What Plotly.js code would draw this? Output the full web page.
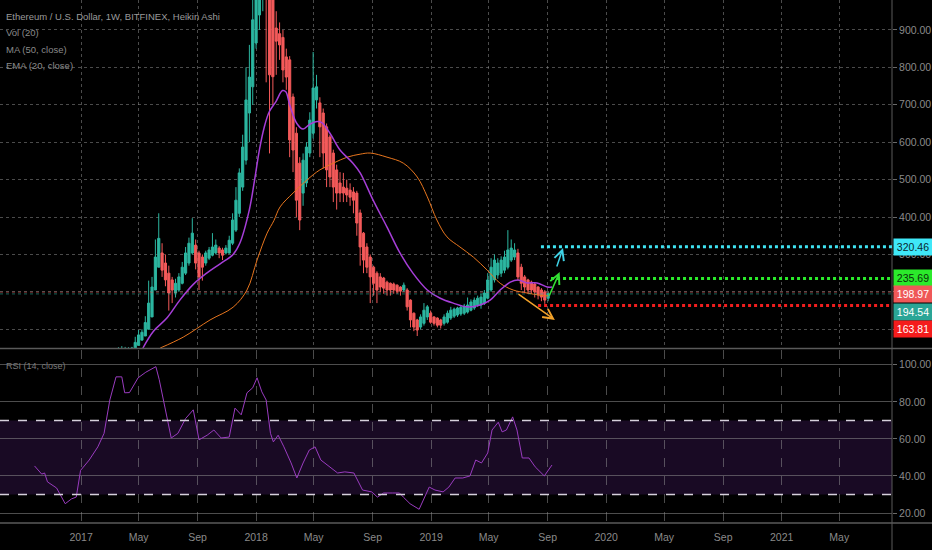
<!DOCTYPE html>
<html>
<head>
<meta charset="utf-8">
<script src="https://cdn.plot.ly/plotly-3.0.1.min.js"></script>
<style>
  html, body { margin: 0; padding: 0; background: #000; }
  #chart { width: 932px; height: 550px; }
</style>
</head>
<body>
<div id="chart"></div>
<script>
// weekly Heikin Ashi candles, first week starts 2017-02-27
const firstWeek = [2017, 1, 27];
const haOpen = [13, 15, 17, 22, 31, 40, 43, 46, 48, 57, 71, 82, 100, 133, 205, 266,
  304, 277, 250, 232, 197, 205, 223, 250, 277, 304, 325, 304, 293, 277, 290, 298, 304, 317, 312, 304,
  304, 330, 365, 410, 480, 552, 678, 748, 865, 940, 1040, 1130, 1065, 990, 905, 890, 880, 828, 820, 721,
  624, 544, 464, 491, 571, 624, 713, 705, 678, 641, 614, 571, 526, 491, 480, 477, 472, 467, 464, 411,
  357, 320, 293, 266, 250, 240, 237, 226, 223, 221, 218, 213, 205, 205, 178, 143, 125, 106, 116, 133,
  143, 133, 130, 125, 116, 119, 130, 135, 138, 141, 143, 146, 151, 157, 165, 165, 170, 183, 205, 232,
  245, 250, 258, 266, 285, 293, 304, 266, 240, 232, 226, 221, 213, 205, 200, 183];
const haHigh = [19, 21, 32, 52, 55, 53, 52, 53, 80, 98, 100, 135, 230, 240, 340, 410,
  330, 300, 270, 240, 235, 250, 280, 320, 345, 397, 340, 310, 300, 310, 320, 357, 340, 322, 318, 325,
  350, 410, 480, 530, 620, 800, 860, 1000, 1250, 1420, 1300, 1200, 1100, 1000, 950, 920, 900, 850, 830, 730,
  640, 560, 570, 600, 680, 841, 780, 720, 690, 650, 620, 580, 540, 520, 518, 500, 490, 480, 470, 420,
  360, 330, 300, 270, 255, 250, 240, 230, 225, 225, 220, 215, 225, 210, 180, 145, 128, 140, 170, 165,
  150, 135, 132, 128, 140, 150, 160, 158, 160, 165, 168, 185, 180, 185, 190, 195, 205, 250, 290, 300,
  290, 295, 310, 365, 340, 330, 315, 275, 245, 235, 230, 225, 215, 210, 205, 200];
const haLow = [12, 14, 17, 22, 31, 40, 43, 45, 48, 57, 71, 82, 100, 133, 205, 266,
  240, 215, 150, 170, 185, 200, 220, 245, 270, 300, 260, 205, 230, 270, 285, 295, 300, 290, 285, 300,
  302, 325, 360, 400, 470, 540, 600, 700, 850, 900, 950, 760, 570, 700, 780, 820, 760, 740, 560, 520,
  400, 365, 430, 480, 560, 610, 690, 560, 530, 480, 480, 440, 420, 440, 440, 440, 430, 410, 350, 270,
  250, 250, 170, 190, 170, 200, 195, 190, 190, 195, 195, 190, 200, 150, 105, 95, 82, 100, 110, 125,
  115, 110, 105, 102, 110, 115, 125, 130, 133, 136, 138, 142, 148, 152, 160, 155, 165, 180, 200, 225,
  235, 240, 250, 260, 280, 285, 230, 205, 200, 195, 195, 185, 180, 175, 168, 175];
const haClose = [16, 19, 27, 40, 48, 46, 48, 50, 65, 85, 92, 118, 170, 213, 293, 343,
  258, 232, 197, 205, 223, 240, 266, 304, 330, 357, 277, 240, 266, 304, 312, 320, 325, 304, 298, 317,
  338, 392, 445, 518, 587, 713, 774, 927, 1050, 1150, 1120, 1000, 780, 775, 870, 860, 793, 774, 606, 579,
  445, 392, 552, 587, 659, 745, 748, 641, 571, 526, 507, 480, 464, 464, 464, 459, 453, 445, 384, 320,
  285, 266, 240, 223, 205, 213, 210, 205, 205, 205, 202, 202, 218, 160, 125, 106, 98, 133, 151, 160,
  119, 116, 111, 111, 133, 143, 151, 154, 157, 159, 162, 165, 173, 178, 183, 186, 197, 232, 266, 285,
  277, 285, 293, 312, 317, 312, 240, 223, 213, 205, 205, 200, 192, 186, 178, 195];

// MA (50, close) - purple
const maDates = ["2017-05-10", "2017-06-01", "2017-06-29", "2017-07-26", "2017-08-23", "2017-09-20",
  "2017-10-18", "2017-11-14", "2017-11-28", "2017-12-18", "2017-12-29", "2018-01-08", "2018-01-18",
  "2018-01-28", "2018-02-12", "2018-02-25", "2018-03-04", "2018-03-12", "2018-03-27", "2018-04-09",
  "2018-04-23", "2018-05-08", "2018-05-18", "2018-06-04", "2018-06-25", "2018-07-22", "2018-08-06",
  "2018-09-02", "2018-10-01", "2018-10-28", "2018-11-24", "2018-12-24", "2019-01-20", "2019-02-16",
  "2019-03-17", "2019-04-13", "2019-05-04", "2019-05-25", "2019-06-15", "2019-07-01", "2019-07-20",
  "2019-08-10", "2019-08-31", "2019-09-10"];
const maValues = [50, 95, 130, 178, 220, 250, 275, 300, 330, 420, 500, 580, 640, 680, 710, 738, 735,
  700, 650, 635, 648, 655, 652, 624, 579, 544, 518, 445, 373, 304, 250, 205, 183, 170, 160, 165, 178,
  205, 226, 232, 224, 224, 213, 213];

// EMA (20, close) - orange
const emaDates = ["2017-06-15", "2017-08-02", "2017-09-27", "2017-11-14", "2017-12-13", "2018-01-03",
  "2018-01-24", "2018-02-07", "2018-02-20", "2018-03-19", "2018-04-17", "2018-05-14", "2018-06-11",
  "2018-07-10", "2018-08-06", "2018-08-27", "2018-10-01", "2018-11-04", "2018-12-03", "2018-12-24",
  "2019-01-13", "2019-02-03", "2019-03-02", "2019-03-30", "2019-04-28", "2019-05-25", "2019-06-21",
  "2019-07-20", "2019-08-16", "2019-09-02"];
const emaValues = [50, 79, 125, 159, 205, 285, 357, 390, 427, 464, 499, 526, 544, 560, 568, 571, 560,
  544, 507, 454, 392, 347, 320, 293, 258, 223, 205, 197, 191, 189];

// RSI (14, close)
const rsiDates = ["2016-09-26", "2016-10-11", "2016-10-17", "2016-10-23", "2016-11-11", "2016-11-29",
  "2016-12-12", "2016-12-22", "2016-12-31", "2017-01-18", "2017-02-05", "2017-02-18", "2017-03-02",
  "2017-03-15", "2017-03-27", "2017-04-02", "2017-04-12", "2017-04-30", "2017-05-16", "2017-06-06",
  "2017-06-13", "2017-06-25", "2017-07-08", "2017-07-22", "2017-08-07", "2017-08-23", "2017-09-04",
  "2017-09-21", "2017-10-05", "2017-10-20", "2017-11-06", "2017-11-18", "2017-12-01", "2017-12-13",
  "2017-12-25", "2018-01-03", "2018-01-13", "2018-01-22", "2018-01-31", "2018-02-06", "2018-02-16",
  "2018-02-28", "2018-03-15", "2018-03-27", "2018-04-09", "2018-04-22", "2018-05-04", "2018-05-16",
  "2018-06-04", "2018-06-20", "2018-07-05", "2018-07-24", "2018-08-11", "2018-08-30", "2018-09-11",
  "2018-09-24", "2018-10-12", "2018-10-27", "2018-11-04", "2018-11-18", "2018-12-07", "2018-12-19",
  "2018-12-28", "2019-01-09", "2019-01-26", "2019-02-07", "2019-02-20", "2019-03-08", "2019-03-23",
  "2019-04-04", "2019-04-16", "2019-04-29", "2019-05-08", "2019-05-21", "2019-05-29", "2019-06-07",
  "2019-06-20", "2019-06-29", "2019-07-10", "2019-07-24", "2019-08-06", "2019-08-25", "2019-09-10"];
const rsiValues = [45.4, 41, 41.6, 36.8, 33.5, 25, 27.6, 28.6, 43, 48.6, 55.7, 63, 81, 93.5, 93.5, 84.9,
  85, 93, 96, 99, 92, 77, 60.5, 63, 71, 75.7, 59.5, 62, 64.8, 60.5, 61, 76.6, 73, 84.9, 87.6, 93, 85.4,
  81, 63, 58.4, 62, 55.7, 47, 38.9, 47, 54, 55.7, 48.6, 44.9, 41.6, 42.2, 41.6, 32.4, 31.4, 28.6, 30.8,
  30.8, 30.8, 28.6, 25, 22, 28.6, 34, 32.4, 31.4, 34, 38.9, 38.9, 40, 48.6, 47, 52.4, 64.8, 69, 63.8,
  64.8, 71.9, 64.8, 49.7, 49.7, 44.9, 40, 45.9];

// drawn levels and arrows
const levelNames = ["cyan", "green", "red"];
const levelPrices = [320.46, 235.69, 163.81];
const levelStarts = ["2019-08-18", "2019-09-08", "2019-08-12"];
const lastPrices = [198.97, 194.54];

// 100 and 200 labels sit under the price badges, so only their grid lines show
const priceTicks = [100, 200, 300, 400, 500, 600, 700, 800, 900];
const priceTickText = ["", "", "300.00", "400.00", "500.00", "600.00", "700.00", "800.00", "900.00"];
const rsiTicks = [20, 40, 60, 80, 100];
const timeTicks = ["2017-01-01", "2017-05-01", "2017-09-01", "2018-01-01", "2018-05-01", "2018-09-01",
  "2019-01-01", "2019-05-01", "2019-09-01", "2020-01-01", "2020-05-01", "2020-09-01", "2021-01-01",
  "2021-05-01"];
const timeLabels = ["2017", "May", "Sep", "2018", "May", "Sep", "2019", "May", "Sep", "2020", "May",
  "Sep", "2021", "May"];

const X_RANGE = ["2016-07-16", "2021-08-19"];
const UP = "#2cb6a0";
const DOWN = "#f45a5a";
const GRID = "rgba(150,150,150,0.5)";
const TEXT = "#8a8a8a";
const FONT = "'Liberation Sans', Arial, sans-serif";
const LEVEL_COLORS = { cyan: "#3fe3f2", green: "#2bea2b", red: "#f01e1e" };

const weekDates = haClose.map((_, i) => {
  const d = new Date(Date.UTC(firstWeek[0], firstWeek[1], firstWeek[2] + 7 * i));
  return d.toISOString().slice(0, 10);
});

const data = [
  {
    type: "candlestick",
    x: weekDates,
    open: haOpen,
    high: haHigh,
    low: haLow,
    close: haClose,
    xaxis: "x",
    yaxis: "y",
    increasing: { line: { color: UP, width: 1 }, fillcolor: UP },
    decreasing: { line: { color: DOWN, width: 1 }, fillcolor: DOWN },
    hoverinfo: "skip",
    showlegend: false,
  },
  {
    type: "scatter",
    mode: "lines",
    x: emaDates,
    y: emaValues,
    xaxis: "x",
    yaxis: "y",
    line: { color: "#e8761e", width: 1, shape: "spline" },
    hoverinfo: "skip",
    showlegend: false,
  },
  {
    type: "scatter",
    mode: "lines",
    x: maDates,
    y: maValues,
    xaxis: "x",
    yaxis: "y",
    line: { color: "#a63ed8", width: 1.5, shape: "spline" },
    hoverinfo: "skip",
    showlegend: false,
  },
  {
    type: "scatter",
    mode: "lines",
    x: rsiDates,
    y: rsiValues,
    xaxis: "x2",
    yaxis: "y2",
    line: { color: "#9a3cc0", width: 1 },
    hoverinfo: "skip",
    showlegend: false,
  },
];

const shapes = [
  // RSI band 30-70
  { type: "rect", xref: "paper", yref: "y2", x0: 0, x1: 1, y0: 30, y1: 70,
    fillcolor: "#190a24", line: { width: 0 }, layer: "below" },
  { type: "line", xref: "paper", yref: "y2", x0: 0, x1: 1, y0: 70, y1: 70,
    line: { color: "#d6d0dc", width: 1.5, dash: "dash" } },
  { type: "line", xref: "paper", yref: "y2", x0: 0, x1: 1, y0: 30, y1: 30,
    line: { color: "#d6d0dc", width: 1.5, dash: "dash" } },
  // pane separators and price scale border
  { type: "line", xref: "paper", yref: "paper", x0: 0, x1: 1.045, y0: 0.3337, y1: 0.3337,
    line: { color: "#5a5a5a", width: 1.5 } },
  { type: "line", xref: "paper", yref: "paper", x0: 0, x1: 1.045, y0: 0, y1: 0,
    line: { color: "#5a5a5a", width: 1.5 } },
  { type: "line", xref: "paper", yref: "paper", x0: 1, x1: 1, y0: -0.06, y1: 1,
    line: { color: "#5a5a5a", width: 1 } },
];

lastPrices.forEach((p, i) => {
  shapes.push({ type: "line", xref: "paper", yref: "y", x0: 0, x1: 1, y0: p, y1: p,
    line: { color: i === 0 ? "rgba(242,92,92,0.45)" : "rgba(45,179,160,0.55)", width: 1, dash: "dot" } });
});

levelNames.forEach((name, i) => {
  shapes.push({ type: "line", xref: "x", yref: "y", x0: levelStarts[i], x1: X_RANGE[1],
    y0: levelPrices[i], y1: levelPrices[i],
    line: { color: LEVEL_COLORS[name], width: 3, dash: "dot" } });
});

const legendLines = ["Ethereum / U.S. Dollar, 1W, BITFINEX, Heikin Ashi", "Vol (20)", "MA (50, close)", "EMA (20, close)"];
const legendY = [0.9694, 0.9388, 0.9063, 0.8757];

const annotations = legendLines.map((t, i) => ({
  xref: "paper", yref: "paper", x: 0.005, y: legendY[i], xanchor: "left", yanchor: "middle",
  text: t, showarrow: false, font: { family: FONT, size: 9.5, color: i === 0 ? "#9a9a9a" : TEXT },
}));
annotations.push({
  xref: "paper", yref: "paper", x: 0.004, y: 0.3002, xanchor: "left", yanchor: "middle",
  text: "RSI (14, close)", showarrow: false, font: { family: FONT, size: 9, color: "#7a7a7a" },
});

// trend arrows
const arrowTails = [["2019-06-29", 197], ["2019-09-03", 186], ["2019-09-19", 264]];
const arrowHeads = [["2019-09-16", 125], ["2019-09-26", 253], ["2019-10-03", 317]];
const arrowColors = ["#f2a22a", "#34dd34", "#3fd2e6"];
arrowHeads.forEach((h, i) => {
  annotations.push({
    xref: "x", yref: "y", axref: "x", ayref: "y",
    x: h[0], y: h[1], ax: arrowTails[i][0], ay: arrowTails[i][1],
    text: "", showarrow: true, arrowhead: 5, arrowsize: 1.3, arrowwidth: 1.5,
    arrowcolor: arrowColors[i], standoff: 0, startstandoff: 0,
  });
});

// price badges on the right scale
const badgeValues = [320.46, 235.69, 198.97, 194.54, 163.81];
const badgeColors = ["#3fe8f8", "#2bea2b", "#ef5858", "#2aa596", "#f51c1c"];
const badgeText = ["#0a2a30", "#0a300a", "#ffffff", "#ffffff", "#ffffff"];
const badgeShift = [0, 1, -2, -18, -24];
badgeValues.forEach((v, i) => {
  annotations.push({
    xref: "paper", yref: "y", x: 1, y: v, xanchor: "left", yanchor: "middle",
    xshift: 1, yshift: badgeShift[i], text: v.toFixed(2), showarrow: false,
    bgcolor: badgeColors[i], borderpad: 1, width: 36, height: 14,
    font: { family: FONT, size: 10.5, color: badgeText[i] },
  });
});

const layout = {
  width: 932,
  height: 550,
  paper_bgcolor: "#000",
  plot_bgcolor: "#000",
  margin: { l: 0, r: 40, t: 0, b: 27 },
  showlegend: false,
  boxgap: 0.08,
  font: { family: FONT, color: TEXT, size: 11 },
  xaxis: {
    type: "date", range: X_RANGE, anchor: "y", showticklabels: false,
    tickmode: "array", tickvals: timeTicks, showgrid: true, gridcolor: GRID, griddash: "dot",
    zeroline: false, showline: false, rangeslider: { visible: false }, fixedrange: true,
  },
  xaxis2: {
    type: "date", range: X_RANGE, anchor: "y2", matches: "x",
    tickmode: "array", tickvals: timeTicks, ticktext: timeLabels, ticks: "",
    ticklabelstandoff: 6,
    tickfont: { family: FONT, size: 10.5, color: TEXT },
    showgrid: true, gridcolor: GRID, griddash: "dash", zeroline: false, showline: false,
    rangeslider: { visible: false }, fixedrange: true,
  },
  yaxis: {
    domain: [0.3346, 1], range: [50, 980], side: "right", anchor: "x",
    tickmode: "array", tickvals: priceTicks, ticktext: priceTickText,
    ticks: "outside", ticklen: 4, tickcolor: "#6a6a6a",
    tickfont: { family: FONT, size: 10.5, color: TEXT },
    showgrid: true, gridcolor: GRID, griddash: "dot", zeroline: false, showline: false, fixedrange: true,
  },
  yaxis2: {
    domain: [0, 0.3308], range: [14.6, 108], side: "right", anchor: "x2",
    tickmode: "array", tickvals: rsiTicks, ticktext: rsiTicks.map((v) => v.toFixed(2)),
    ticks: "outside", ticklen: 4, tickcolor: "#6a6a6a",
    tickfont: { family: FONT, size: 10.5, color: TEXT },
    showgrid: true, gridcolor: "rgba(140,140,140,0.55)", zeroline: false, showline: false, fixedrange: true,
  },
  shapes: shapes,
  annotations: annotations,
};

Plotly.newPlot("chart", data, layout, { staticPlot: true, displayModeBar: false });
</script>
</body>
</html>
